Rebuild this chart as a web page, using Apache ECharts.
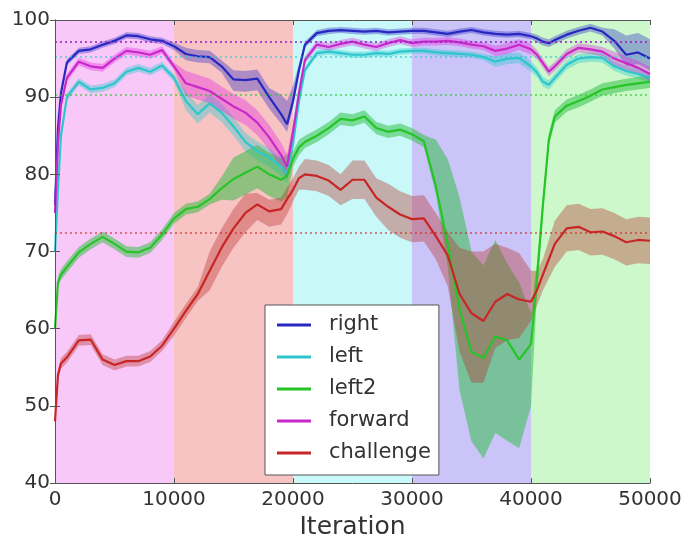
<!DOCTYPE html>
<html>
<head>
<meta charset="utf-8">
<script src="https://cdn.jsdelivr.net/npm/echarts@6/dist/echarts.min.js"></script>
<style>
  html, body { margin: 0; padding: 0; background: #fff; }
  #chart { width: 687px; height: 545px; }
</style>
</head>
<body>
<div id="chart"></div>
<script>
// Training iterations at which accuracy was recorded
var iterations = [0, 250, 500, 1000, 2000, 3000, 4000, 5000, 6000, 7000, 8000, 9000, 10000,
  11000, 12000, 13000, 14000, 15000, 16000, 17000, 18000, 19000, 19500, 20000, 20500,
  21000, 22000, 23000, 24000, 25000, 26000, 27000, 28000, 29000, 30000, 31000, 32000,
  33000, 34000, 35000, 36000, 37000, 38000, 39000, 40000, 40500, 41000, 41500, 42000,
  43000, 44000, 45000, 46000, 47000, 48000, 49000, 50000];

// Mean accuracy per test set
var right = [76, 86, 90.5, 94.5, 96.0, 96.2, 96.8, 97.3, 98.0, 97.9, 97.5, 97.3, 96.6,
  95.6, 95.3, 95.2, 94.0, 92.3, 92.2, 92.4, 90.0, 87.8, 86.5, 89.5, 93.5,
  96.8, 98.3, 98.6, 98.7, 98.6, 98.5, 98.6, 98.4, 98.5, 98.6, 98.6, 98.4,
  98.2, 98.5, 98.7, 98.4, 98.2, 98.1, 98.2, 97.9, 97.6, 97.2, 97.0, 97.4,
  98.1, 98.6, 99.0, 98.5, 97.3, 95.5, 95.8, 95.0];
var left = [70, 78, 85, 90, 92.0, 91.0, 91.2, 91.8, 93.3, 93.8, 93.3, 94.1, 92.5,
  89.5, 87.8, 89.2, 88.0, 86.2, 84.2, 83.0, 82.2, 81.0, 80.0, 84.0, 89.5,
  93.5, 95.7, 95.9, 95.7, 95.5, 95.5, 95.7, 95.6, 95.9, 96.0, 96.0, 95.8,
  95.7, 95.6, 95.5, 95.2, 94.6, 95.0, 95.1, 94.0, 93.2, 92.0, 91.6, 92.5,
  94.2, 95.0, 95.2, 95.1, 94.0, 93.4, 93.0, 92.5];
var left2 = [60, 66, 67, 68, 69.9, 71.0, 71.9, 71.0, 70.0, 69.9, 70.5, 72.2, 74.3,
  75.5, 75.8, 76.8, 78.2, 79.4, 80.2, 81.0, 80.0, 79.3, 79.8, 82.0, 83.5,
  84.2, 85.0, 86.0, 87.2, 87.0, 87.5, 86.0, 85.5, 85.8, 85.2, 84.3, 78.5,
  71.0, 62.5, 57.0, 56.2, 59.0, 58.5, 56.0, 58.0, 66.5, 76.0, 84.5, 87.5,
  88.9, 89.5, 90.2, 91.0, 91.3, 91.6, 91.8, 92.0];
var forward = [75, 84, 89, 92.5, 94.6, 94.0, 93.8, 95.0, 96.0, 95.8, 95.5, 96.1, 94.0,
  91.8, 91.3, 90.8, 89.8, 88.8, 88.0, 86.7, 84.8, 82.5, 81.0, 85.5, 90.5,
  94.8, 96.8, 96.5, 96.9, 97.2, 96.8, 96.5, 97.0, 97.4, 97.0, 97.2, 97.2,
  97.3, 97.1, 96.8, 96.6, 96.0, 96.3, 96.8, 96.2, 95.5, 94.4, 93.3, 94.0,
  95.6, 96.4, 96.2, 95.9, 95.0, 94.4, 93.8, 93.0];
var challenge = [48, 54, 55.5, 56.3, 58.5, 58.6, 56.0, 55.3, 55.8, 55.8, 56.4, 57.8, 60.0,
  62.3, 64.5, 67.5, 70.5, 73.0, 75.0, 76.1, 75.2, 75.5, 76.8, 78.0, 79.5,
  80.0, 79.8, 79.2, 78.0, 79.3, 79.3, 77.0, 75.8, 74.8, 74.2, 74.3, 72.0,
  69.5, 64.5, 62.0, 61.0, 63.5, 64.5, 63.8, 63.5, 65.0, 67.0, 69.0, 71.0,
  73.0, 73.2, 72.5, 72.6, 72.0, 71.2, 71.5, 71.4];

// Spread below / above each mean (shaded band)
var rightBelow = [0.4, 0.4, 0.4, 0.4, 0.4, 0.4, 0.4, 0.4, 0.4, 0.4, 0.4, 0.4, 0.5,
  0.8, 0.8, 0.8, 0.8, 1.5, 1.5, 1.5, 1.5, 1.2, 1.0, 0.8, 0.5,
  0.4, 0.4, 0.4, 0.4, 0.4, 0.4, 0.4, 0.4, 0.4, 0.4, 0.4, 0.4,
  0.4, 0.4, 0.4, 0.4, 0.4, 0.4, 0.4, 0.4, 0.5, 0.5, 0.5, 0.5,
  0.5, 0.5, 0.5, 0.5, 1.0, 1.5, 1.5, 1.5];
var rightAbove = [0.4, 0.4, 0.4, 0.4, 0.4, 0.4, 0.4, 0.4, 0.4, 0.4, 0.4, 0.4, 0.5,
  0.8, 0.8, 0.8, 0.8, 1.2, 1.2, 1.2, 1.2, 2.5, 3.0, 2.0, 0.8,
  0.4, 0.4, 0.4, 0.4, 0.4, 0.4, 0.4, 0.4, 0.4, 0.4, 0.4, 0.4,
  0.4, 0.4, 0.4, 0.4, 0.4, 0.4, 0.4, 0.4, 0.5, 0.5, 0.5, 0.5,
  0.5, 0.5, 0.5, 0.5, 1.5, 2.5, 2.5, 2.5];
var leftSpread = [0.5, 0.5, 0.5, 0.5, 0.5, 0.5, 0.5, 0.5, 0.5, 0.5, 0.5, 0.5, 0.5,
  1.2, 1.2, 1.2, 1.2, 1.2, 1.2, 1.2, 1.2, 1.2, 1.2, 0.8, 0.8,
  0.4, 0.4, 0.4, 0.4, 0.4, 0.4, 0.4, 0.4, 0.4, 0.4, 0.4, 0.4,
  0.4, 0.4, 0.4, 0.4, 0.7, 0.7, 0.7, 0.7, 0.6, 0.6, 0.6, 0.6,
  0.6, 0.6, 0.6, 0.6, 0.6, 0.6, 0.6, 0.6];
var left2Below = [0.7, 0.7, 0.7, 0.7, 0.7, 0.7, 0.7, 0.7, 0.7, 0.7, 0.7, 0.7, 0.7,
  0.7, 0.7, 0.7, 1.5, 2.8, 2.8, 2.8, 2.8, 2.8, 2.8, 1.0, 1.0,
  0.8, 0.8, 0.8, 0.8, 0.8, 0.8, 0.8, 0.8, 0.8, 0.8, 0.8, 1.0,
  3.0, 10.5, 11.6, 13.0, 12.5, 13.0, 11.5, 8.0, 2.0, 1.0, 0.8, 0.8,
  0.8, 0.8, 0.8, 0.8, 0.8, 0.8, 0.8, 0.8];
var left2Above = [0.7, 0.7, 0.7, 0.7, 0.7, 0.7, 0.7, 0.7, 0.7, 0.7, 0.7, 0.7, 0.7,
  0.7, 0.7, 0.7, 1.5, 2.8, 2.8, 2.8, 2.8, 2.8, 2.8, 1.0, 1.0,
  0.8, 0.8, 0.8, 0.8, 0.8, 0.8, 0.8, 0.8, 0.8, 0.8, 0.8, 6.0,
  11.0, 14.5, 13.0, 12.0, 12.5, 10.0, 10.0, 4.0, 2.0, 1.0, 0.8, 0.8,
  0.8, 0.8, 0.8, 0.8, 0.8, 0.8, 0.8, 0.8];
var forwardSpread = [0.5, 0.5, 0.5, 0.5, 0.5, 0.5, 0.5, 0.5, 0.5, 0.5, 0.5, 0.5, 0.5,
  1.6, 1.6, 1.6, 1.6, 1.6, 1.6, 1.6, 1.6, 1.6, 1.6, 1.0, 1.0,
  0.5, 0.5, 0.5, 0.5, 0.5, 0.5, 0.5, 0.5, 0.5, 0.5, 0.5, 0.5,
  0.5, 0.5, 0.5, 0.5, 0.7, 0.7, 0.7, 0.7, 0.6, 0.6, 0.6, 0.6,
  0.6, 0.6, 0.6, 0.6, 0.9, 0.9, 0.9, 0.9];
var challengeBelow = [0.7, 0.7, 0.7, 0.7, 0.7, 0.7, 0.7, 0.7, 0.7, 0.7, 0.7, 0.7, 0.9,
  0.9, 0.9, 2.5, 2.5, 2.5, 2.5, 2.0, 2.0, 2.0, 2.0, 1.5, 1.5,
  2.0, 2.0, 2.0, 2.0, 2.5, 2.5, 2.5, 3.0, 3.0, 3.0, 3.0, 3.0,
  4.0, 7.5, 9.0, 8.0, 6.0, 6.0, 5.0, 2.5, 2.0, 2.0, 2.5, 3.0,
  3.0, 3.0, 3.0, 3.0, 3.0, 3.0, 3.0, 3.0];
var challengeAbove = [0.7, 0.7, 0.7, 0.7, 0.7, 0.7, 0.7, 0.7, 0.7, 0.7, 0.7, 0.7, 0.9,
  0.9, 0.9, 2.5, 2.5, 2.5, 2.5, 1.5, 1.5, 1.5, 1.5, 1.5, 1.5,
  2.0, 2.0, 2.0, 2.0, 2.5, 2.5, 2.5, 3.0, 3.0, 3.0, 3.0, 3.0,
  3.0, 6.0, 8.0, 9.0, 7.5, 6.0, 6.0, 4.0, 2.5, 2.0, 2.5, 3.0,
  3.0, 3.0, 3.0, 3.0, 3.0, 3.0, 3.0, 3.0];

// Reference accuracy level for each test set (dotted lines)
var referenceLevels = [97.2, 95.2, 90.3, 97.2, 72.5];

// Curriculum phases shaded in the background
var phaseEdges = [0, 10000, 20000, 30000, 40000, 50000];
var phaseColors = ['#f8c8f8', '#f8c3c3', '#c8f8f8', '#cbc4f8', '#ccf8cc'];

var seriesNames = ['right', 'left', 'left2', 'forward', 'challenge'];
var seriesColors = ['#2828c0', '#2ec6cc', '#26c426', '#c828c8', '#c82626'];
var bandColors = ['rgba(50,50,200,0.38)', 'rgba(40,200,205,0.38)', 'rgba(40,190,60,0.5)',
  'rgba(225,40,225,0.38)', 'rgba(185,50,45,0.38)'];

var means = [right, left, left2, forward, challenge];
var below = [rightBelow, leftSpread, left2Below, forwardSpread, challengeBelow];
var above = [rightAbove, leftSpread, left2Above, forwardSpread, challengeAbove];

var FONT = 'DejaVu Sans';

function bandSeries(k) {
  var mean = means[k], lo = below[k], hi = above[k];
  var data = iterations.map(function (x, i) { return [x, mean[i] - lo[i], mean[i] + hi[i]]; });
  return {
    type: 'custom',
    name: seriesNames[k] + ' band',
    z: 2,
    silent: true,
    encode: { x: 0, y: [1, 2] },
    data: data,
    renderItem: function (params, api) {
      if (params.dataIndex !== 0) return null;
      var pts = [];
      for (var i = 0; i < data.length; i++) pts.push(api.coord([data[i][0], data[i][2]]));
      for (var j = data.length - 1; j >= 0; j--) pts.push(api.coord([data[j][0], data[j][1]]));
      return { type: 'polygon', shape: { points: pts }, style: { fill: bandColors[k] } };
    }
  };
}

function lineSeries(k) {
  return {
    type: 'line',
    name: seriesNames[k],
    z: 3,
    symbol: 'none',
    color: seriesColors[k],
    lineStyle: { width: 2.2, color: seriesColors[k] },
    data: iterations.map(function (x, i) { return [x, means[k][i]]; }),
    markLine: {
      silent: true,
      symbol: 'none',
      label: { show: false },
      lineStyle: { type: [2, 3], width: 1.5, color: seriesColors[k], opacity: 0.75 },
      data: [{ yAxis: referenceLevels[k] }]
    }
  };
}

var phaseAreas = [];
for (var p = 0; p < phaseColors.length; p++) {
  phaseAreas.push([{ xAxis: phaseEdges[p], itemStyle: { color: phaseColors[p] } }, { xAxis: phaseEdges[p + 1] }]);
}

var series = [{
  type: 'line', name: 'phases', data: [], z: 1, silent: true,
  markArea: { silent: true, itemStyle: { opacity: 1 }, data: phaseAreas }
}];
for (var k = 0; k < 5; k++) series.push(bandSeries(k));
for (var k2 = 0; k2 < 5; k2++) series.push(lineSeries(k2));

var axisLineStyle = { show: true, lineStyle: { color: '#555', width: 1 } };
var tickStyle = { show: true, inside: true, length: 5, lineStyle: { color: '#555' } };

var chart = echarts.init(document.getElementById('chart'), null, { renderer: 'canvas' });
chart.setOption({
  animation: false,
  backgroundColor: '#ffffff',
  textStyle: { fontFamily: FONT },
  grid: { left: 55, right: 37, top: 20, bottom: 61, containLabel: false },
  legend: {
    data: seriesNames,
    orient: 'vertical',
    left: 265,
    top: 305,
    icon: 'rect',
    itemWidth: 34,
    itemHeight: 3,
    itemGap: 10,
    padding: [9, 8, 11, 12],
    backgroundColor: '#ffffff',
    borderColor: '#555',
    borderWidth: 1,
    borderRadius: 0,
    textStyle: { fontFamily: FONT, fontSize: 21, color: '#333', lineHeight: 22, padding: [0, 0, 0, 13] }
  },
  xAxis: [{
    type: 'value', min: 0, max: 50000, interval: 10000, z: 10,
    axisLine: axisLineStyle, axisTick: tickStyle, splitLine: { show: false },
    axisLabel: { fontFamily: FONT, fontSize: 20, color: '#333', margin: 7,
      formatter: function (v) { return String(v); } },
    name: 'Iteration', nameLocation: 'middle', nameGap: 31,
    nameTextStyle: { fontFamily: FONT, fontSize: 25, color: '#333' }
  }, {
    type: 'value', position: 'top', min: 0, max: 50000, interval: 10000, z: 10,
    axisLine: axisLineStyle, axisTick: tickStyle, splitLine: { show: false },
    axisLabel: { show: false }
  }],
  yAxis: [{
    type: 'value', min: 40, max: 100, interval: 10, z: 10,
    axisLine: axisLineStyle, axisTick: tickStyle, splitLine: { show: false },
    axisLabel: { fontFamily: FONT, fontSize: 20, color: '#333', margin: 5 }
  }, {
    type: 'value', position: 'right', min: 40, max: 100, interval: 10, z: 10,
    axisLine: axisLineStyle, axisTick: tickStyle, splitLine: { show: false },
    axisLabel: { show: false }
  }],
  series: series
});
</script>
</body>
</html>
